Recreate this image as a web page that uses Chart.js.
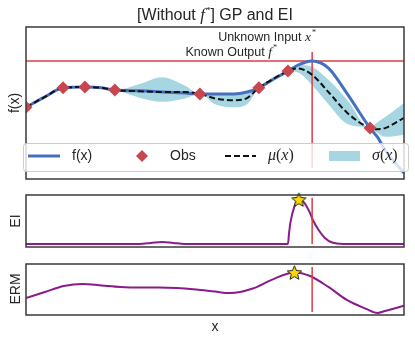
<!DOCTYPE html>
<html>
<head>
<meta charset="utf-8">
<script src="https://cdn.jsdelivr.net/npm/chart.js@4.4.1/dist/chart.umd.min.js"></script>
<style>
body { margin: 0; background: #fff; }
#wrap { position: relative; width: 415px; height: 340px; font-family: 'Liberation Sans', Arial, sans-serif; color: #262626; }
canvas { position: absolute; left: 0; top: 0; }
.txt { position: absolute; white-space: nowrap; }
.m { font-family: 'Liberation Serif', 'DejaVu Serif', serif; font-style: italic; }
.st { font-size: 8px; position: relative; top: -6px; margin-left: 1px; font-family: 'Liberation Serif', serif; }
.ylab { position: absolute; width: 60px; height: 16px; line-height: 16px; text-align: center; font-size: 14px; transform: rotate(-90deg); }
</style>
</head>
<body>
<div id="wrap">
  <canvas id="cMain" width="415" height="340"></canvas>
  <canvas id="cEI" width="415" height="340"></canvas>
  <canvas id="cERM" width="415" height="340"></canvas>

  <div class="txt" style="left:26px; width:378px; top:5px; line-height:20px; text-align:center; font-size:16px;">[Without <span class="m" style="font-size:17px">f</span><span class="st" style="font-size:9px; top:-7px;">*</span>] GP and EI</div>
  <div class="txt" style="left:0; width:316px; top:30px; line-height:14px; text-align:right; font-size:12.5px;">Unknown Input <span class="m" style="font-size:13.5px">x</span><span class="st">*</span></div>
  <div class="txt" style="left:0; width:277px; top:45px; line-height:14px; text-align:right; font-size:12.5px;">Known Output <span class="m" style="font-size:13.5px">f</span><span class="st">*</span></div>

  <div class="ylab" style="left:-16px; top:95px;">f(x)</div>
  <div class="ylab" style="left:-15px; top:213px;">EI</div>
  <div class="ylab" style="left:-15px; top:281px;">ERM</div>
  <div class="txt" style="left:185px; width:60px; top:318px; line-height:16px; text-align:center; font-size:14px;">x</div>
</div>

<script>
// grille des x (0..10) pour f, mu et la bande
const xs = [0, 0.5, 0.98, 1.56, 2.0, 2.35, 3.0, 3.6, 4.2, 4.6, 5.0, 5.5, 5.85, 6.16, 6.5, 6.93, 7.2, 7.57, 8.0, 8.5, 9.1, 9.3, 9.5, 10];
const fTrue = [-0.11, 0.16, 0.40, 0.42, 0.40, 0.34, 0.32, 0.29, 0.26, 0.24, 0.24, 0.24, 0.29, 0.40, 0.60, 0.84, 1.00, 1.105, 0.92, 0.24, -0.66, -0.90, -1.24, -1.84];
const muVals = [-0.11, 0.16, 0.40, 0.42, 0.40, 0.34, 0.31, 0.29, 0.29, 0.24, 0.12, 0.07, 0.13, 0.40, 0.61, 0.84, 0.91, 0.74, 0.29, -0.26, -0.66, -0.69, -0.66, -0.39];
const upperVals = [-0.11, 0.18, 0.40, 0.42, 0.42, 0.34, 0.50, 0.68, 0.46, 0.24, 0.26, 0.26, 0.29, 0.40, 0.66, 0.84, 1.00, 0.95, 0.61, 0.08, -0.66, -0.50, -0.37, 0.0];
const lowerVals = [-0.11, 0.13, 0.40, 0.42, 0.37, 0.34, 0.14, 0.03, 0.12, 0.24, -0.03, -0.11, -0.03, 0.40, 0.55, 0.84, 0.80, 0.47, -0.03, -0.55, -0.66, -0.79, -0.89, -0.84];

// observations
const obsX = [0, 0.98, 1.56, 2.35, 4.6, 6.16, 6.93, 9.1];
const obsY = [-0.11, 0.40, 0.42, 0.34, 0.24, 0.40, 0.84, -0.66];

// f* et x*
const fStar = 1.105;
const xStar = 7.57;
const vMain = [1.34, -1.71];
const vEI = [1.04, 0];
const vERM = [0.94, 0.06];

// EI
const eiX = [0, 3.0, 3.3, 3.6, 3.9, 4.2, 6.93, 6.96, 7.0, 7.1, 7.22, 7.35, 7.5, 7.6, 7.75, 7.9, 8.1, 8.4, 10];
const eiY = [0, 0, 0.02, 0.045, 0.02, 0, 0, 0.25, 0.5, 0.84, 1.0, 0.94, 0.72, 0.52, 0.30, 0.14, 0.03, 0, 0];
const eiBest = { x: 7.22, y: 1.0 };

// ERM
const ermX = [0, 0.5, 1.0, 1.5, 2.0, 2.5, 3.0, 3.5, 4.0, 4.5, 5.0, 5.4, 6.0, 6.5, 7.1, 7.5, 8.0, 8.5, 9.0, 9.3, 9.5, 10];
const ermY = [0.33, 0.45, 0.57, 0.61, 0.58, 0.55, 0.54, 0.54, 0.53, 0.50, 0.46, 0.43, 0.52, 0.69, 0.835, 0.77, 0.55, 0.29, 0.12, 0.04, 0.08, 0.18];
const ermBest = { x: 7.1, y: 0.835 };

const BLUE = '#4470c0';
const RED = 'rgb(218,62,72)';
const OBS_RED = '#c8474f';
const BAND = 'rgb(166,214,226)';
const PURPLE = '#8b1a8b';

Chart.defaults.font.family = "'Liberation Sans', Arial, sans-serif";

function pts(xArr, yArr) {
    return xArr.map((x, i) => ({ x: x, y: yArr[i] }));
}

// étoile dorée pour le max de l'acquisition
function makeStar(size) {
    const c = document.createElement('canvas');
    c.width = size; c.height = size;
    const g = c.getContext('2d');
    const cx = size / 2, cy = size / 2 + 0.8, R = size / 2 - 1, r = R * 0.45;
    g.beginPath();
    for (let i = 0; i < 10; i++) {
        const rad = i % 2 ? r : R;
        const a = -Math.PI / 2 + i * Math.PI / 5;
        g.lineTo(cx + rad * Math.cos(a), cy + rad * Math.sin(a));
    }
    g.closePath();
    g.fillStyle = '#ffd700';
    g.fill();
    g.strokeStyle = '#222';
    g.lineWidth = 1;
    g.stroke();
    return c;
}
const starImg = makeStar(17);

// cadre autour de la zone de tracé
const frame = {
    id: 'frame',
    afterDatasetsDraw(chart) {
        const { ctx, chartArea: a } = chart;
        ctx.save();
        ctx.strokeStyle = '#3a3a3a';
        ctx.lineWidth = 1.5;
        ctx.strokeRect(a.left, a.top, a.right - a.left, a.bottom - a.top);
        ctx.restore();
    }
};

function drawMath(ctx, parts, x, y) {
    parts.forEach(p => {
        ctx.font = p[1] ? "italic 16px 'Liberation Serif', serif" : "16px 'Liberation Serif', serif";
        ctx.fillText(p[0], x, y);
        x += ctx.measureText(p[0]).width;
    });
}

// légende par-dessus le graphique (fond blanc semi transparent)
const legendBox = {
    id: 'legendBox',
    afterDraw(chart) {
        const ctx = chart.ctx;
        const cy = 156;
        ctx.save();
        ctx.fillStyle = 'rgba(255,255,255,0.8)';
        ctx.strokeStyle = 'rgba(200,200,200,0.9)';
        ctx.lineWidth = 1;
        ctx.beginPath();
        ctx.roundRect(23.5, 143.5, 385, 28, 3);
        ctx.fill();
        ctx.stroke();

        ctx.lineWidth = 3;
        ctx.strokeStyle = BLUE;
        ctx.beginPath(); ctx.moveTo(28, cy); ctx.lineTo(60, cy); ctx.stroke();

        ctx.fillStyle = OBS_RED;
        ctx.beginPath();
        ctx.moveTo(136, cy); ctx.lineTo(142, cy - 6); ctx.lineTo(148, cy); ctx.lineTo(142, cy + 6);
        ctx.closePath(); ctx.fill();

        ctx.lineWidth = 2;
        ctx.strokeStyle = '#111';
        ctx.setLineDash([6, 3]);
        ctx.beginPath(); ctx.moveTo(225, cy); ctx.lineTo(256, cy); ctx.stroke();
        ctx.setLineDash([]);

        ctx.fillStyle = BAND;
        ctx.fillRect(329, 151, 31, 10);

        ctx.fillStyle = '#262626';
        ctx.textBaseline = 'middle';
        ctx.font = "14px 'Liberation Sans', Arial, sans-serif";
        ctx.fillText('f(x)', 72, cy);
        ctx.fillText('Obs', 170, cy);
        drawMath(ctx, [['μ', true], ['(', false], ['x', true], [')', false]], 268, cy);
        drawMath(ctx, [['σ', true], ['(', false], ['x', true], [')', false]], 372, cy);
        ctx.restore();
    }
};

function baseOptions(pad, ymin, ymax) {
    return {
        responsive: false,
        animation: false,
        events: [],
        layout: { padding: pad },
        plugins: { legend: { display: false }, tooltip: { enabled: false } },
        scales: {
            x: { type: 'linear', min: 0, max: 10, display: false },
            y: { type: 'linear', min: ymin, max: ymax, display: false }
        }
    };
}

function lineSet(data, color, width, extra) {
    return Object.assign({
        data: data, showLine: true, borderColor: color, borderWidth: width,
        pointRadius: 0, cubicInterpolationMode: 'monotone', fill: false
    }, extra || {});
}

// graphique principal : f(x), observations, mu et sigma
new Chart(document.getElementById('cMain'), {
    type: 'scatter',
    data: {
        datasets: [
            { data: pts(obsX, obsY), pointStyle: 'rectRot', pointRadius: 6.5, backgroundColor: OBS_RED, borderColor: OBS_RED, borderWidth: 0 },
            lineSet(pts(xs, muVals), '#111', 2, { borderDash: [6, 3] }),
            lineSet(pts(xs, fTrue), BLUE, 3),
            lineSet([{ x: 0, y: fStar }, { x: 10, y: fStar }], RED, 1.5, { cubicInterpolationMode: 'default' }),
            lineSet([{ x: xStar, y: vMain[0] }, { x: xStar, y: vMain[1] }], RED, 1.5, { cubicInterpolationMode: 'default' }),
            lineSet(pts(xs, upperVals), 'rgba(0,0,0,0)', 0, { fill: '+1', backgroundColor: BAND }),
            lineSet(pts(xs, lowerVals), 'rgba(0,0,0,0)', 0)
        ]
    },
    options: baseOptions({ left: 26, right: 11, top: 27, bottom: 161 }, -2, 2),
    plugins: [frame, legendBox]
});

// EI
new Chart(document.getElementById('cEI'), {
    type: 'scatter',
    data: {
        datasets: [
            { data: [eiBest], pointStyle: starImg, pointRadius: 8, clip: false },
            lineSet([{ x: xStar, y: vEI[0] }, { x: xStar, y: vEI[1] }], RED, 1.5, { cubicInterpolationMode: 'default' }),
            lineSet(pts(eiX, eiY), PURPLE, 2)
        ]
    },
    options: baseOptions({ left: 26, right: 11, top: 195, bottom: 93 }, -0.07, 1.1),
    plugins: [frame]
});

// ERM
new Chart(document.getElementById('cERM'), {
    type: 'scatter',
    data: {
        datasets: [
            { data: [ermBest], pointStyle: starImg, pointRadius: 8, clip: false },
            lineSet([{ x: xStar, y: vERM[0] }, { x: xStar, y: vERM[1] }], RED, 1.5, { cubicInterpolationMode: 'default' }),
            lineSet(pts(ermX, ermY), PURPLE, 2)
        ]
    },
    options: baseOptions({ left: 26, right: 11, top: 264, bottom: 25 }, 0, 1),
    plugins: [frame]
});
</script>
</body>
</html>
